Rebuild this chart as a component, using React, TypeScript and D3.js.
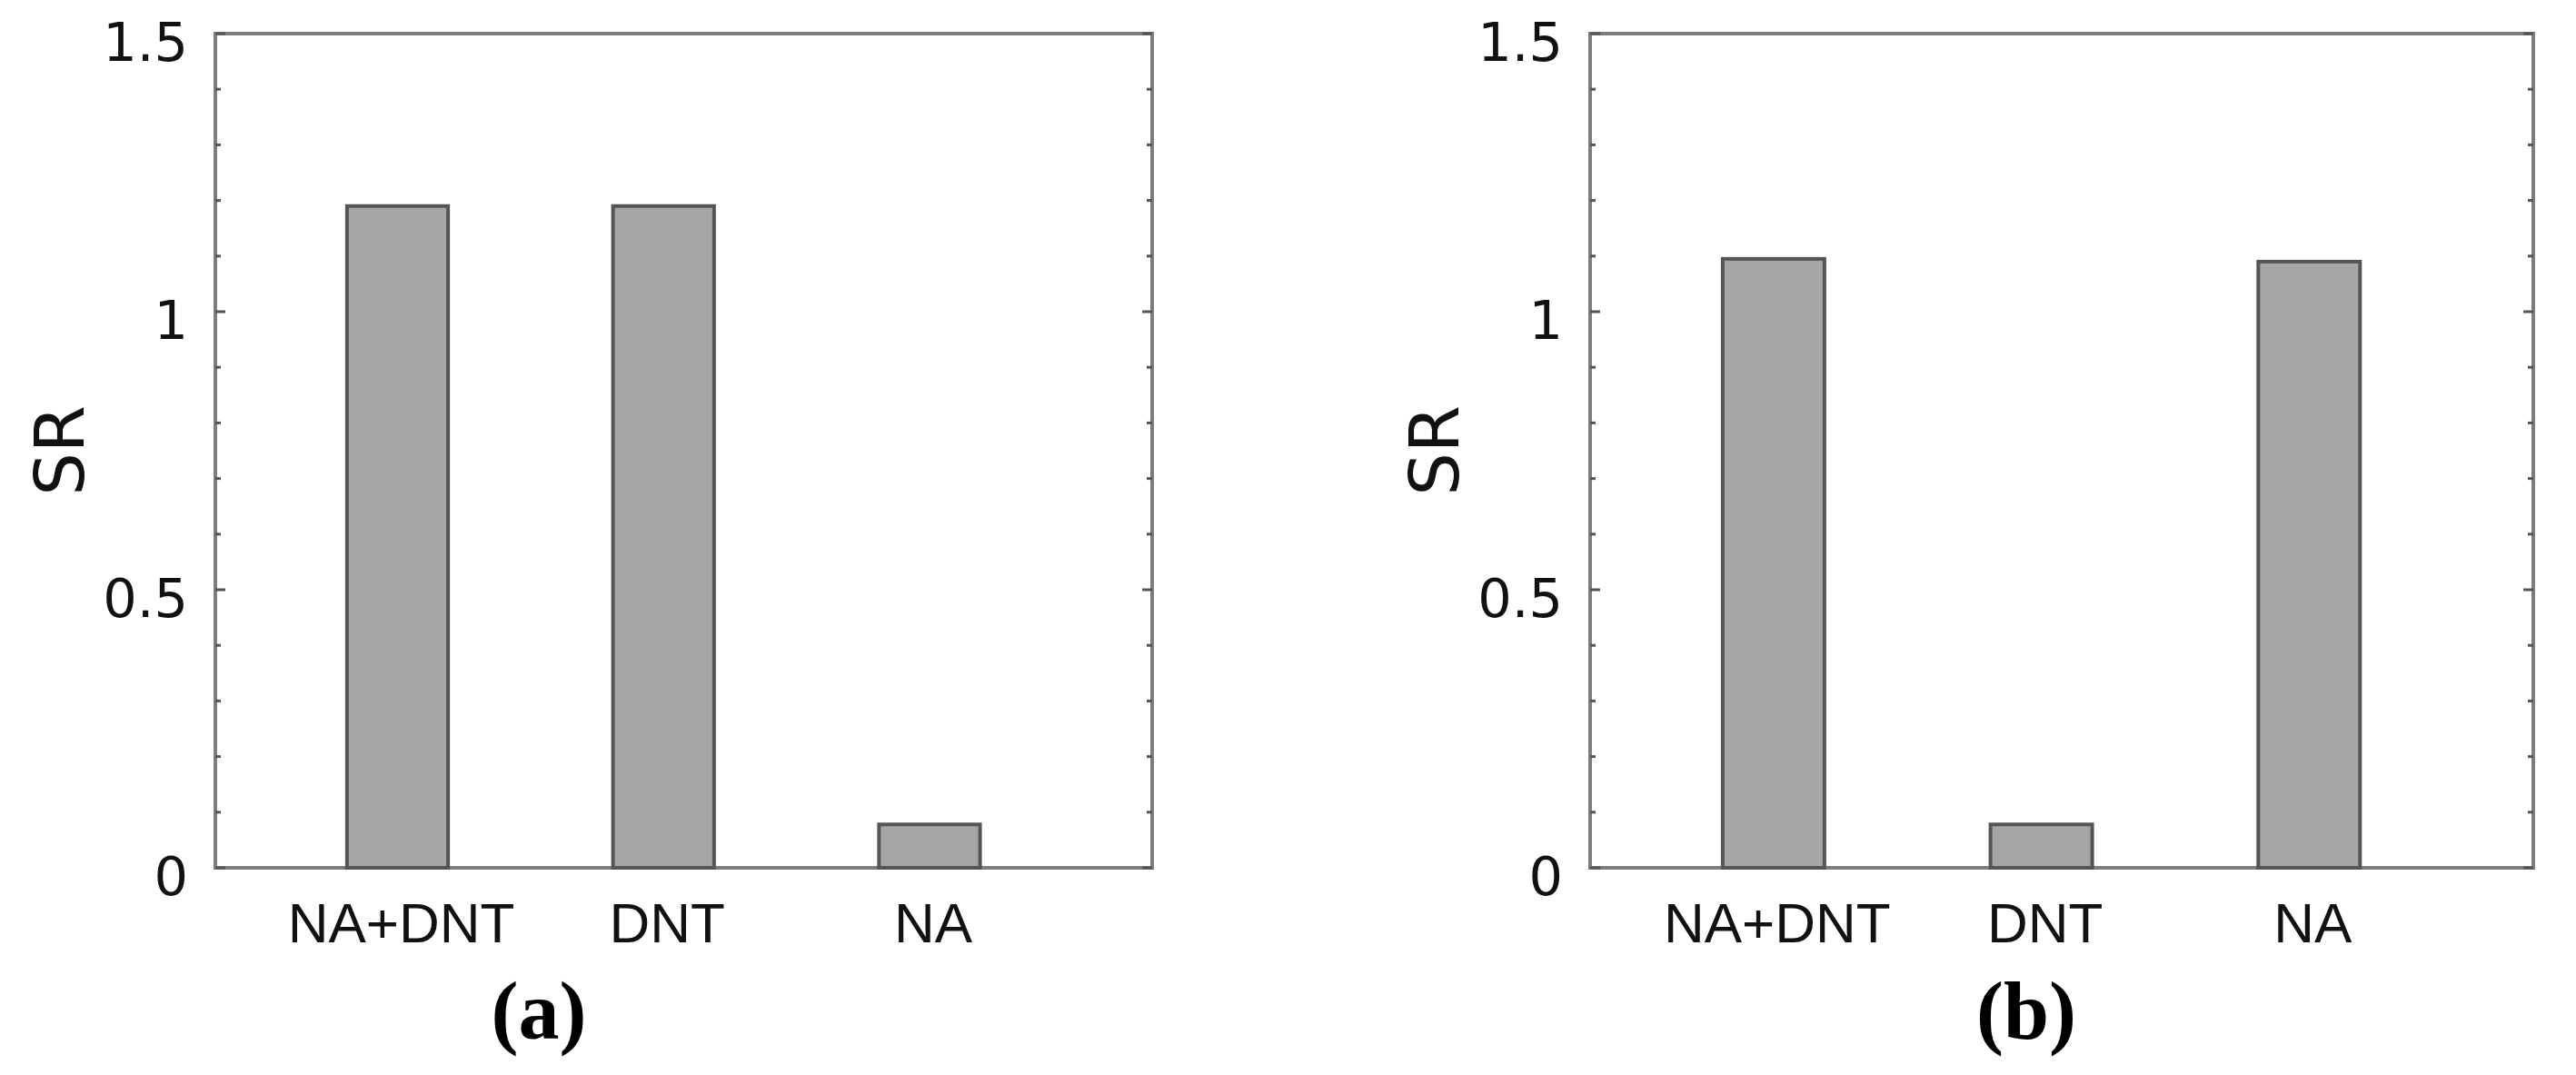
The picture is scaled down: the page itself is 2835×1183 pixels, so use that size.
import React from "react";
import * as d3 from "d3";

const categories = ["NA+DNT", "DNT", "NA"];
const valuesA = [1.19, 1.19, 0.078];
const valuesB = [1.095, 0.078, 1.09];
const yTickValues = [0, 0.5, 1, 1.5];
const yTickLabels = ["0", "0.5", "1", "1.5"];
const panelLabels = ["(a)", "(b)"];
const yAxisTitle = "SR";

const W = 2835;
const H = 1183;
const TOP = 37;
const BOTTOM = 955;

const panels = [
  { left: 237, right: 1268, values: valuesA, label: panelLabels[0], labelX: 593 },
  { left: 1750, right: 2788, values: valuesB, label: panelLabels[1], labelX: 2230 },
];

const xDomain: [number, number] = [0.315, 3.837];
const barWidthUnits = 0.38;

function Panel({ p }: { p: (typeof panels)[number] }) {
  const x = d3.scaleLinear().domain(xDomain).range([p.left, p.right]);
  const y = d3.scaleLinear().domain([0, 1.5]).range([BOTTOM, TOP]);
  const minor = d3.range(0, 16).map((i) => i / 10);
  const bw = x(1 + barWidthUnits) - x(1);
  const boxColor = "#7d7d7d";
  return (
    <g>
      {/* box */}
      <rect
        x={p.left}
        y={TOP}
        width={p.right - p.left}
        height={BOTTOM - TOP}
        fill="none"
        stroke={boxColor}
        strokeWidth={4}
      />
      {/* ticks left & right */}
      {minor.map((v) => {
        const isMajor = yTickValues.some((t) => Math.abs(t - v) < 1e-9);
        const len = isMajor ? 11 : 6;
        return (
          <g key={v}>
            <line x1={p.left} x2={p.left + len} y1={y(v)} y2={y(v)} stroke="#555" strokeWidth={3} />
            <line x1={p.right} x2={p.right - len} y1={y(v)} y2={y(v)} stroke="#555" strokeWidth={3} />
          </g>
        );
      })}
      {/* tick labels */}
      {yTickValues.map((v, i) => (
        <text
          key={v}
          x={p.left - 30}
          y={y(v) + 30}
          textAnchor="end"
          fontFamily="DejaVu Sans"
          fontSize={59}
          fill="#111"
        >
          {yTickLabels[i]}
        </text>
      ))}
      {/* bars */}
      {p.values.map((v, i) => (
        <rect
          key={i}
          x={x(i + 1) - bw / 2}
          y={y(v)}
          width={bw}
          height={y(0) - y(v)}
          fill="#a6a6a6"
          stroke="#555"
          strokeWidth={4}
        />
      ))}
      {/* category labels */}
      {categories.map((c, i) => (
        <text
          key={c}
          x={x(i + 1) + 4}
          y={1037}
          textAnchor="middle"
          fontFamily="Liberation Sans"
          fontSize={62}
          fill="#111"
        >
          {c}
        </text>
      ))}
      {/* y title */}
      <text
        transform={`translate(${p.left - 145},${(TOP + BOTTOM) / 2}) rotate(-90)`}
        textAnchor="middle"
        fontFamily="DejaVu Sans"
        fontSize={75}
        fill="#111"
      >
        {yAxisTitle}
      </text>
      {/* panel label */}
      <text
        x={p.labelX}
        y={1143}
        textAnchor="middle"
        fontFamily="Liberation Serif"
        fontWeight="bold"
        fontSize={90}
        fill="#000"
      >
        {p.label}
      </text>
    </g>
  );
}

export default function App() {
  return (
    <svg
      width={W}
      height={H}
      viewBox={`0 0 ${W} ${H}`}
      style={{ position: "absolute", left: 0, top: 0, background: "#fff" }}
    >
      <rect x={0} y={0} width={W} height={H} fill="#fff" />
      {panels.map((p, i) => (
        <Panel key={i} p={p} />
      ))}
    </svg>
  );
}
